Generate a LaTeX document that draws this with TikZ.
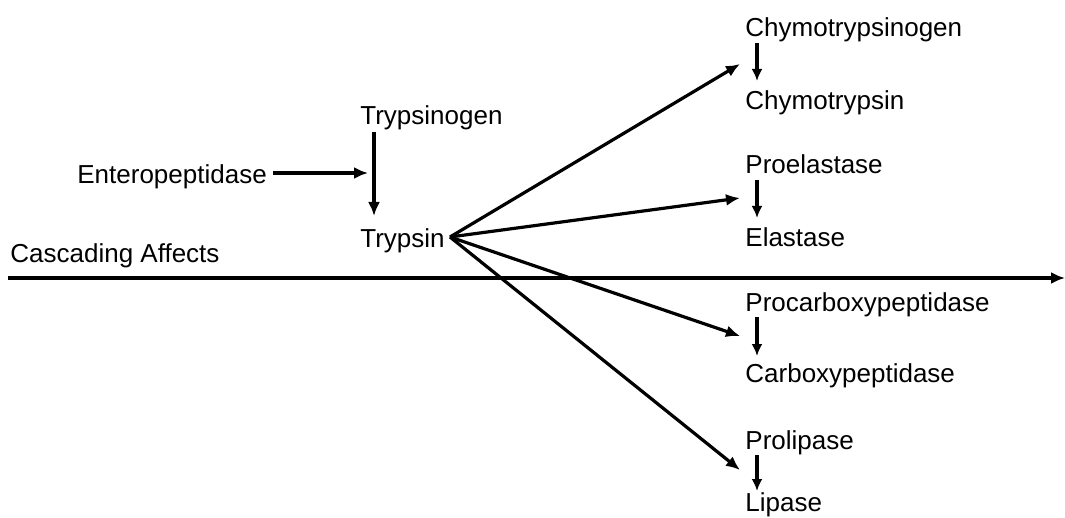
\documentclass[tikz,border=0pt]{standalone}
\usepackage{fontspec}
\setmainfont{Liberation Sans}
\usetikzlibrary{arrows.meta}
\begin{document}
\begin{tikzpicture}[x=0.5pt, y=-0.5pt,
  lbl/.style={anchor=base west, inner sep=0pt, font=\fontsize{13pt}{15pt}\selectfont},
  arr/.style={line width=1.6pt, -{Latex[length=7pt, width=6pt]}},
  sarr/.style={line width=1.6pt, -{Latex[length=6pt, width=5.5pt]}}]
\useasboundingbox (0,0) rectangle (1065,518);

\node[lbl] (ent) at (77,184) {Enteropeptidase};
\node[lbl] (tgen) at (360,125) {Trypsinogen};
\node[lbl] (tryp) at (360,248) {Trypsin};
\node[lbl] (casc) at (10,263) {Cascading Affects};

%\draw[help lines] (0,0) grid[step=50] (1065,518);
\coordinate (v1) at (374,132);
\coordinate (v2) at (374,216);
\draw[arr] (v1) -- (v2);
\coordinate (hit) at (368,173);
\draw[arr] ([xshift=3pt]ent.east |- hit) -- (hit);

% cascade axis
\coordinate (ax1) at (8,278);
\coordinate (ax2) at (1065,278);
\draw[arr] (ax1) -- (ax2);

\node[lbl] (chg) at (745,37) {Chymotrypsinogen};
\node[lbl] (ch) at (745,110) {Chymotrypsin};
\node[lbl] (pel) at (745,174) {Proelastase};
\node[lbl] (el) at (745,247) {Elastase};
\node[lbl] (pcp) at (745,312) {Procarboxypeptidase};
\node[lbl] (cp) at (745,382) {Carboxypeptidase};
\node[lbl] (pli) at (745,449) {Prolipase};
\node[lbl] (li) at (745,511) {Lipase};

\coordinate (fan) at (450,237);
\coordinate (t1) at (740,64);
\coordinate (t2) at (740,198);
\coordinate (t3) at (740,336);
\coordinate (t4) at (740,470);
\foreach \t in {t1,t2,t3,t4}
  \draw[arr] (fan) -- (\t);

% activation steps
\foreach \a/\b in {43/81, 180/218, 317/356, 455/491}{
  \coordinate (s1) at (757,\a);
  \coordinate (s2) at (757,\b);
  \draw[sarr] (s1) -- (s2);
}
\end{tikzpicture}
\end{document}
